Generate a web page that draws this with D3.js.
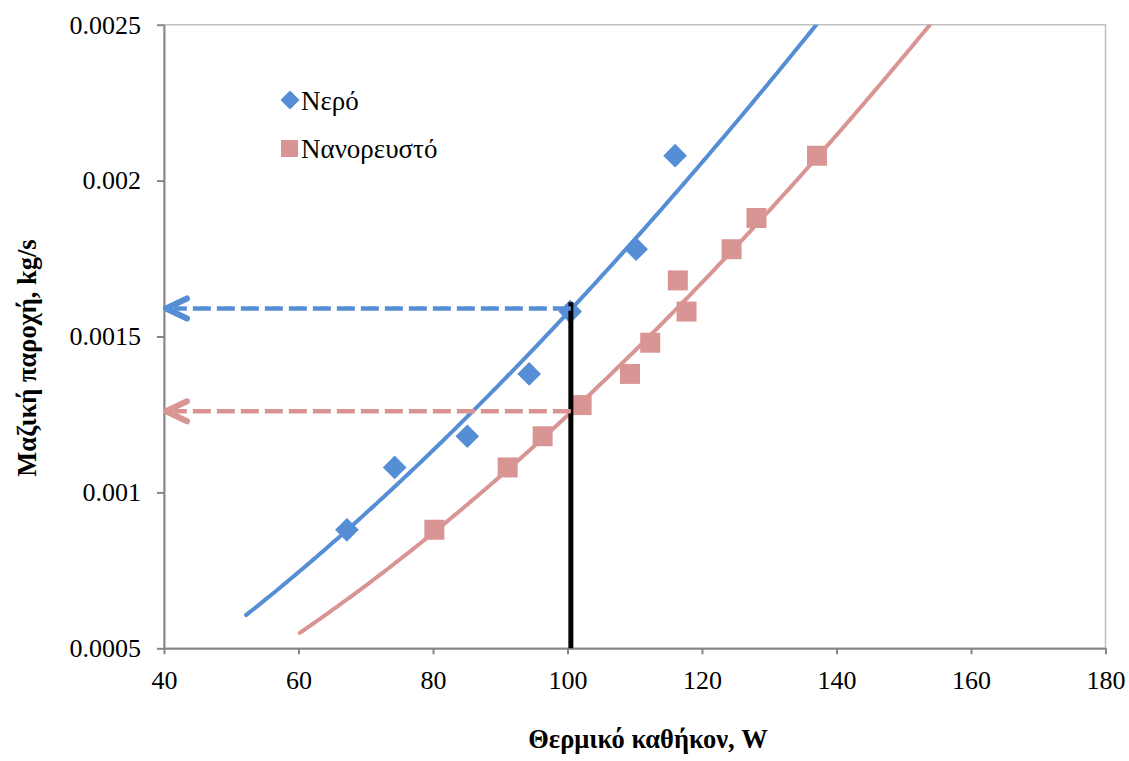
<!DOCTYPE html>
<meta charset="utf-8">
<body style="margin:0; background:#fff;">
<script src="https://d3js.org/d3.v7.min.js"></script>
<svg id="chart" width="1129" height="761"></svg>
<script>
// data
var waterQ    = [67.2, 74.3, 85.1, 94.3, 100.4, 110.2, 116.0];
var waterM    = [0.00088, 0.00108, 0.00118, 0.00138, 0.00158, 0.00178, 0.00208];
var nanoQ     = [80.2, 91.1, 96.3, 102.1, 109.3, 112.3, 116.4, 117.7, 124.4, 128.1, 137.1];
var nanoM     = [0.00088, 0.00108, 0.00118, 0.00128, 0.00138, 0.00148, 0.00168, 0.00158, 0.00178, 0.00188, 0.00208];
var seriesNames = ["Νερό", "Νανορευστό"];
var xTicks = [40, 60, 80, 100, 120, 140, 160, 180];
var yTicks = [0.0005, 0.001, 0.0015, 0.002, 0.0025];
// trendline backward forecast (W) for each series
var backCast = [15, 20];
// reading at Q = 100.5 W
var refQ = 100.5;
var refTop = 0.00161;
var arrowM = [0.00159, 0.00126];

var blue = "#558ed5", pink = "#d99594";

var svg = d3.select("#chart");
var pLeft = 164, pRight = 1105.5, pTop = 24.7, pBottom = 648.3;

var x = d3.scaleLinear().domain([40, 180]).range([pLeft, pRight]);
var y = d3.scaleLinear().domain([0.0005, 0.0025]).range([pBottom, pTop]);

svg.append("rect").attr("width", 1129).attr("height", 761).attr("fill", "#fff");

// plot border
svg.append("rect")
   .attr("x", pLeft).attr("y", pTop)
   .attr("width", pRight - pLeft).attr("height", pBottom - pTop)
   .attr("fill", "none").attr("stroke", "#bfbfbf").attr("stroke-width", 1.5);

svg.append("clipPath").attr("id", "clip")
   .append("rect").attr("x", pLeft).attr("y", pTop)
   .attr("width", pRight - pLeft).attr("height", pBottom - pTop);

// axes
var xAxis = svg.append("g")
   .attr("transform", "translate(0," + pBottom + ")")
   .call(d3.axisBottom(x).tickValues(xTicks).tickSize(6).tickPadding(16).tickSizeOuter(0));
var yAxis = svg.append("g")
   .attr("transform", "translate(" + pLeft + ",0)")
   .call(d3.axisLeft(y).tickValues(yTicks).tickFormat(d3.format(".4~f")).tickSize(7).tickPadding(16).tickSizeOuter(0));

[xAxis, yAxis].forEach(function(a) {
   a.select(".domain").attr("stroke", "#878787").attr("stroke-width", 2);
   a.selectAll(".tick line").attr("stroke", "#878787").attr("stroke-width", 2);
   a.selectAll("text").attr("font-family", "Liberation Serif").attr("font-size", 26).attr("fill", "#000");
});

// power trendline (least squares in log space, like Excel)
function powerFit(xs, ys) {
   var lx = xs.map(Math.log), ly = ys.map(Math.log);
   var mx = d3.mean(lx), my = d3.mean(ly);
   var sxy = d3.sum(lx, function(v, i) { return (v - mx) * (ly[i] - my); });
   var sxx = d3.sum(lx, function(v) { return (v - mx) * (v - mx); });
   var b = sxy / sxx, a = Math.exp(my - b * mx);
   return function(q) { return a * Math.pow(q, b); };
}

// diamond = square turned 45 degrees
var series = [
   { q: waterQ, m: waterM, color: blue, size: 280, rot: 45 },
   { q: nanoQ,  m: nanoM,  color: pink, size: 400, rot: 0 }
];

var plot = svg.append("g").attr("clip-path", "url(#clip)");
var line = d3.line().x(function(d) { return x(d[0]); }).y(function(d) { return y(d[1]); });

series.forEach(function(s, i) {
   var f = powerFit(s.q, s.m);
   var q0 = d3.min(s.q) - backCast[i];
   var pts = d3.range(q0, 181, 0.5).map(function(q) { return [q, f(q)]; });
   plot.append("path")
      .attr("d", line(pts))
      .attr("fill", "none").attr("stroke", s.color)
      .attr("stroke-width", 4).attr("stroke-linecap", "round");
});

series.forEach(function(s) {
   plot.selectAll(null)
      .data(s.q.map(function(q, i) { return [q, s.m[i]]; }))
      .enter().append("path")
      .attr("d", d3.symbol().type(d3.symbolSquare).size(s.size))
      .attr("transform", function(d) {
         return "translate(" + x(d[0]) + "," + y(d[1]) + ") rotate(" + s.rot + ")";
      })
      .attr("fill", s.color);
});

// reading lines
svg.append("line")
   .attr("x1", x(refQ)).attr("x2", x(refQ))
   .attr("y1", y(0.0005)).attr("y2", y(refTop))
   .attr("stroke", "#000").attr("stroke-width", 5);

[blue, pink].forEach(function(c, i) {
   var yy = y(arrowM[i]);
   var tip = x(40) + 2;
   svg.append("line")
      .attr("x1", x(refQ)).attr("x2", tip + 8)
      .attr("y1", yy).attr("y2", yy)
      .attr("stroke", c).attr("stroke-width", 4.5)
      .attr("stroke-dasharray", "18,6");
   svg.append("path")
      .attr("d", "M" + (tip + 21) + "," + (yy - 10) + "L" + tip + "," + yy + "L" + (tip + 21) + "," + (yy + 10))
      .attr("fill", "none").attr("stroke", c).attr("stroke-width", 6)
      .attr("stroke-linecap", "round").attr("stroke-linejoin", "round");
});

// legend
var legend = svg.append("g").attr("font-family", "Liberation Serif").attr("font-size", 27);
legend.append("path")
   .attr("d", d3.symbol().type(d3.symbolSquare).size(180))
   .attr("transform", "translate(290,100) rotate(45)").attr("fill", blue);
legend.append("rect")
   .attr("x", 281).attr("y", 140).attr("width", 17).attr("height", 17).attr("fill", pink);
legend.append("text").attr("x", 301).attr("y", 110).text(seriesNames[0]);
legend.append("text").attr("x", 301).attr("y", 158).text(seriesNames[1]);

// axis titles
svg.append("text")
   .attr("x", 648).attr("y", 748)
   .attr("text-anchor", "middle")
   .attr("font-family", "Liberation Serif").attr("font-size", 26.5).attr("font-weight", "bold")
   .text("Θερμικό καθήκον, W");
svg.append("text")
   .attr("transform", "translate(36,358) rotate(-90)")
   .attr("text-anchor", "middle")
   .attr("font-family", "Liberation Serif").attr("font-size", 26.5).attr("font-weight", "bold")
   .text("Μαζική παροχή, kg/s");
</script>
</body>
